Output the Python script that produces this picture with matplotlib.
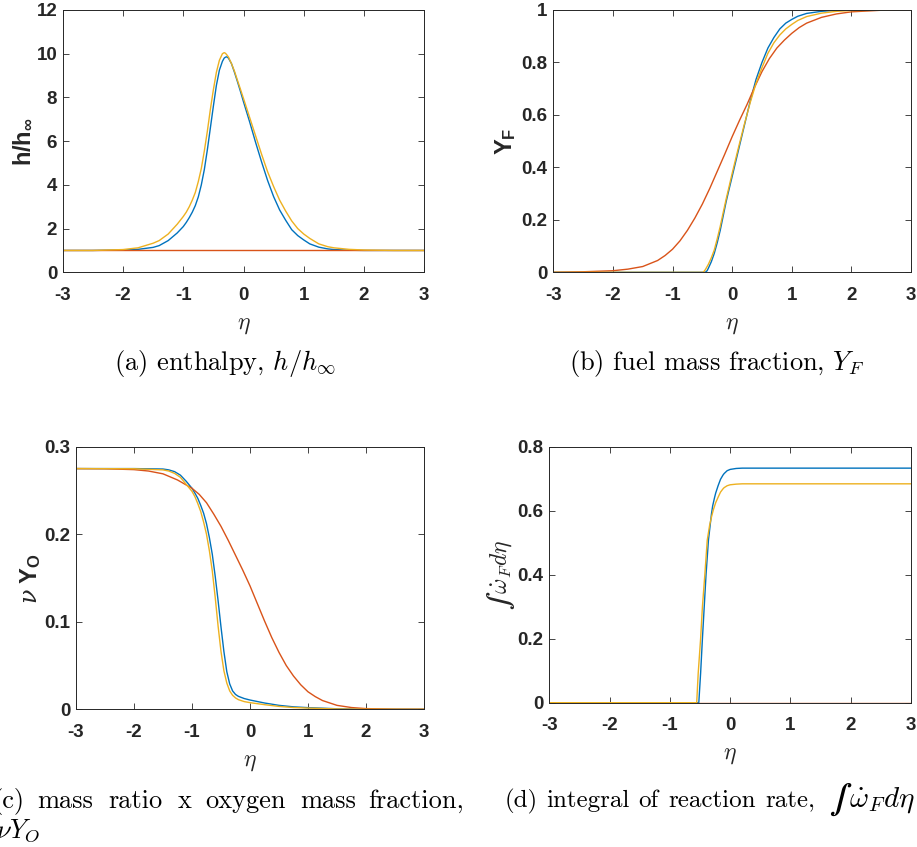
import matplotlib
matplotlib.use('Agg')
import matplotlib.pyplot as plt
from matplotlib.ticker import FuncFormatter

# ---------------- data ----------------
# (a) enthalpy h/h_inf
eta_a = [-3, -2.5, -2, -1.75, -1.5, -1.4, -1.25, -1.1, -1.0, -0.95, -0.9, -0.85, -0.8, -0.75,
         -0.7, -0.65, -0.6, -0.55, -0.5, -0.45, -0.4, -0.35, -0.32, -0.3, -0.28, -0.25, -0.2,
         -0.15, -0.1, -0.05, 0, 0.1, 0.2, 0.3, 0.4, 0.5, 0.6, 0.7, 0.8, 0.9, 1.0, 1.1, 1.25,
         1.4, 1.5, 1.75, 2, 2.5, 3]
h_blue = [1.0, 1.0, 1.02, 1.05, 1.14, 1.22, 1.45, 1.8, 2.09, 2.28, 2.5, 2.75, 3.05, 3.45,
          4.0, 4.7, 5.6, 6.6, 7.6, 8.55, 9.25, 9.65, 9.8, 9.84, 9.86, 9.8, 9.55,
          9.15, 8.72, 8.27, 7.8, 6.9, 5.95, 5.05, 4.2, 3.46, 2.85, 2.38, 1.95, 1.68, 1.48, 1.3, 1.15,
          1.07, 1.04, 1.01, 1.0, 1.0, 1.0]
h_red = [1.0] * len(eta_a)
h_yellow = [1.0, 1.0, 1.04, 1.12, 1.33, 1.45, 1.75, 2.2, 2.55, 2.75, 3.0, 3.3, 3.65, 4.15,
            4.75, 5.55, 6.45, 7.45, 8.35, 9.15, 9.7, 10.0, 10.05, 10.02, 9.96, 9.85, 9.55,
            9.2, 8.78, 8.37, 7.95, 7.1, 6.25, 5.4, 4.6, 3.92, 3.3, 2.8, 2.35, 2.0, 1.75, 1.55, 1.3,
            1.17, 1.12, 1.05, 1.02, 1.0, 1.0]

# (b) fuel mass fraction Y_F
eta_b_red = [-3, -2.5, -2, -1.75, -1.5, -1.25, -1.125, -1.0, -0.875, -0.75, -0.625, -0.5,
             -0.375, -0.25, -0.125, 0, 0.125, 0.25, 0.375, 0.5, 0.625, 0.75, 0.875, 1.0, 1.125,
             1.25, 1.5, 1.75, 2, 2.5, 3]
yf_red = [0.0, 0.002, 0.006, 0.012, 0.022, 0.045, 0.064, 0.088, 0.12, 0.16, 0.207, 0.26,
          0.32, 0.385, 0.45, 0.517, 0.58, 0.64, 0.705, 0.765, 0.815, 0.855, 0.885, 0.911, 0.933,
          0.95, 0.972, 0.985, 0.993, 0.999, 1.0]
eta_b_blue = [-3, -0.45, -0.42, -0.4, -0.35, -0.3, -0.25, -0.2, -0.15, -0.1, -0.05, 0, 0.1,
              0.2, 0.3, 0.4, 0.5, 0.6, 0.7, 0.8, 0.9, 1.0, 1.1, 1.25, 1.5, 1.75, 2, 3]
yf_blue = [0.0, 0.0, 0.006, 0.015, 0.04, 0.072, 0.113, 0.16, 0.215, 0.27, 0.318, 0.365, 0.46,
           0.555, 0.65, 0.735, 0.80, 0.855, 0.895, 0.928, 0.95, 0.964, 0.976, 0.987, 0.995,
           0.999, 1.0, 1.0]
eta_b_yellow = [-3, -0.49, -0.47, -0.45, -0.4, -0.35, -0.3, -0.25, -0.2, -0.15, -0.1, -0.05, 0,
                0.1, 0.2, 0.3, 0.4, 0.5, 0.6, 0.7, 0.8, 0.9, 1.0, 1.1, 1.25, 1.5, 1.75, 2, 3]
yf_yellow = [0.0, 0.0, 0.004, 0.01, 0.03, 0.055, 0.085, 0.128, 0.175, 0.228, 0.28, 0.328,
             0.377, 0.47, 0.56, 0.645, 0.72, 0.78, 0.835, 0.875, 0.905, 0.928, 0.945, 0.96,
             0.975, 0.988, 0.995, 0.998, 1.0]

# (c) mass ratio x oxygen mass fraction
eta_c_red = [-3, -2.5, -2, -1.75, -1.5, -1.25, -1.0, -0.875, -0.75, -0.625, -0.5, -0.375,
             -0.25, -0.125, 0, 0.125, 0.25, 0.375, 0.5, 0.625, 0.75, 0.875, 1.0, 1.125, 1.25,
             1.5, 1.75, 2, 2.5, 3]
yo_red = [0.275, 0.2748, 0.2738, 0.2722, 0.269, 0.262, 0.2525, 0.2455, 0.236, 0.223, 0.209,
          0.193, 0.176, 0.159, 0.141, 0.121, 0.101, 0.082, 0.065, 0.05, 0.038, 0.028, 0.020,
          0.0145, 0.010, 0.0045, 0.002, 0.0008, 0.0001, 0.0]
eta_c_blue = [-3, -2, -1.5, -1.4, -1.3, -1.2, -1.1, -1.0, -0.95, -0.9, -0.85, -0.8, -0.75,
              -0.7, -0.65, -0.6, -0.55, -0.5, -0.45, -0.4, -0.35, -0.3, -0.25, -0.2, -0.1, 0,
              0.25, 0.5, 0.75, 1.0, 1.5, 2, 3]
yo_blue = [0.275, 0.275, 0.2745, 0.2735, 0.2715, 0.2675, 0.2605, 0.2525, 0.247, 0.241, 0.233,
           0.224, 0.212, 0.196, 0.177, 0.152, 0.124, 0.094, 0.066, 0.043, 0.029, 0.021, 0.017,
           0.0148, 0.0123, 0.0106, 0.0072, 0.0045, 0.0028, 0.0019, 0.0006, 0.0001, 0.0]
eta_c_yellow = [-3, -2, -1.5, -1.4, -1.3, -1.2, -1.1, -1.0, -0.95, -0.9, -0.85, -0.8, -0.75,
                -0.7, -0.65, -0.6, -0.55, -0.5, -0.45, -0.4, -0.35, -0.3, -0.25, -0.2, -0.1, 0,
                0.25, 0.5, 0.75, 1.0, 1.5, 2, 3]
yo_yellow = [0.275, 0.2748, 0.2735, 0.2722, 0.2695, 0.265, 0.257, 0.249, 0.243, 0.235, 0.226,
             0.214, 0.20, 0.181, 0.158, 0.128, 0.095, 0.066, 0.044, 0.030, 0.021, 0.016, 0.013,
             0.011, 0.0088, 0.0076, 0.0053, 0.0033, 0.002, 0.0014, 0.0004, 0.0001, 0.0]

# (d) integral of reaction rate
eta_d_blue = [-3, -0.52, -0.49, -0.46, -0.43, -0.40, -0.36, -0.31, -0.29, -0.26, -0.24, -0.2,
              -0.16, -0.12, -0.1, -0.05, 0, 0.1, 0.2, 3]
w_blue = [0.0, 0.0, 0.092, 0.20, 0.30, 0.40, 0.508, 0.59, 0.615, 0.64, 0.655, 0.678, 0.698,
          0.711, 0.716, 0.725, 0.729, 0.732, 0.733, 0.733]
eta_d_red = [-3, 3]
w_red = [0.0, 0.0]
eta_d_yellow = [-3, -0.555, -0.53, -0.49, -0.46, -0.42, -0.38, -0.34, -0.31, -0.28, -0.24,
                -0.2, -0.16, -0.12, -0.1, -0.05, 0, 0.1, 0.2, 3]
w_yellow = [0.0, 0.0, 0.092, 0.20, 0.30, 0.40, 0.508, 0.555, 0.58, 0.602, 0.625, 0.642, 0.658,
            0.668, 0.672, 0.678, 0.681, 0.683, 0.684, 0.684]

x_ticks = [-3, -2, -1, 0, 1, 2, 3]
yticks_a = [0, 2, 4, 6, 8, 10, 12]
yticks_b = [0, 0.2, 0.4, 0.6, 0.8, 1]
yticks_c = [0, 0.1, 0.2, 0.3]
yticks_d = [0, 0.2, 0.4, 0.6, 0.8]

# ---------------- style ----------------
W, H = 917, 847
BLUE, RED, YELLOW = '#0072BD', '#D95319', '#EDB120'
AXC = '#262626'

plt.rcParams['font.family'] = ['Liberation Sans', 'DejaVu Sans']
plt.rcParams['font.weight'] = 'bold'
plt.rcParams['mathtext.fontset'] = 'custom'
plt.rcParams['mathtext.rm'] = 'Liberation Sans:bold'
plt.rcParams['mathtext.bf'] = 'Liberation Sans:bold'
plt.rcParams['mathtext.it'] = 'DejaVu Serif:italic:normal'

fig = plt.figure(figsize=(W / 100, H / 100), dpi=100)


def px_axes(l, r, t, b):
    return fig.add_axes([l / W, 1 - b / H, (r - l) / W, (b - t) / H])


fmt = FuncFormatter(lambda v, p: '%g' % round(v, 6))


def setup(ax, ylim, yticks, ylabel, ylab_x, ylab_math='custom', ylab_weight='bold'):
    ax.set_xlim(-3, 3)
    ax.set_ylim(*ylim)
    ax.set_xticks(x_ticks)
    ax.set_yticks(yticks)
    ax.xaxis.set_major_formatter(fmt)
    ax.yaxis.set_major_formatter(fmt)
    ax.tick_params(direction='in', top=True, right=True, length=4, width=0.6,
                   color=AXC, labelcolor=AXC, labelsize=13.5)
    ax.tick_params(axis='x', pad=10.5)
    ax.tick_params(axis='y', pad=4)
    for s in ax.spines.values():
        s.set_color(AXC)
        s.set_linewidth(0.7)
    ax.set_xlabel(r'$\eta$', fontsize=17, math_fontfamily='cm', fontweight='normal',
                  labelpad=7, color=AXC)
    ax.set_ylabel(ylabel, fontsize=17, math_fontfamily=ylab_math, fontweight=ylab_weight,
                  color=AXC)
    ax.yaxis.set_label_coords(ylab_x, 0.5)


lw = 1.0

ax_a = px_axes(62.7, 424.3, 10, 272.3)
ax_a.plot(eta_a, h_blue, color=BLUE, lw=lw)
ax_a.plot(eta_a, h_red, color=RED, lw=lw)
ax_a.plot(eta_a, h_yellow, color=YELLOW, lw=lw)
setup(ax_a, (0, 12), yticks_a, r'h/h$_\mathregular{\infty}$', -0.077)

ax_b = px_axes(553.3, 911, 10, 272.3)
ax_b.plot(eta_b_blue, yf_blue, color=BLUE, lw=lw)
ax_b.plot(eta_b_red, yf_red, color=RED, lw=lw)
ax_b.plot(eta_b_yellow, yf_yellow, color=YELLOW, lw=lw)
setup(ax_b, (0, 1), yticks_b, r'Y$_\mathregular{F}$', -0.099)

ax_c = px_axes(76, 424, 446.7, 709.3)
ax_c.plot(eta_c_blue, yo_blue, color=BLUE, lw=lw)
ax_c.plot(eta_c_red, yo_red, color=RED, lw=lw)
ax_c.plot(eta_c_yellow, yo_yellow, color=YELLOW, lw=lw)
setup(ax_c, (0, 0.3), yticks_c, r'$\nu$ Y$_\mathregular{O}$', -0.095)

ax_d = px_axes(549.3, 911, 446.7, 702.7)
ax_d.plot(eta_d_blue, w_blue, color=BLUE, lw=lw)
ax_d.plot(eta_d_red, w_red, color=RED, lw=lw)
ax_d.plot(eta_d_yellow, w_yellow, color=YELLOW, lw=lw)
setup(ax_d, (0, 0.8), yticks_d, '$\u222b\\, \\dot{\\omega}_F d\\eta$', -0.089,
      ylab_math='cm', ylab_weight='normal')

# ---------------- captions ----------------
CAP = dict(family='cmr10', fontweight='normal', math_fontfamily='cm', color='black')


def cap(x, y, s, ha='left', size=19):
    fig.text(x / W, 1 - y / H, s, ha=ha, va='baseline', fontsize=size, **CAP)


cap(225, 370, r'(a) enthalpy, $h/h_\infty$', ha='center')
cap(716.7, 370, r'(b) fuel mass fraction, $Y_F$', ha='center')
for word, xw in [('(c)', -8), ('mass', 37), ('ratio', 108), ('x', 178), ('oxygen', 205),
                 ('mass', 300), ('fraction,', 368)]:
    cap(xw, 808, word)
cap(-4, 838, r'$\nu Y_O$')
for word, xw in [('(d)', 505), ('integral', 546), ('of', 638), ('reaction', 668),
                 ('rate,', 765)]:
    cap(xw, 807, word, size=18)
cap(829, 807, '$\u222b\\, \\dot{\\omega}_F d\\eta$', size=21)

fig.savefig('out.png', dpi=100)
